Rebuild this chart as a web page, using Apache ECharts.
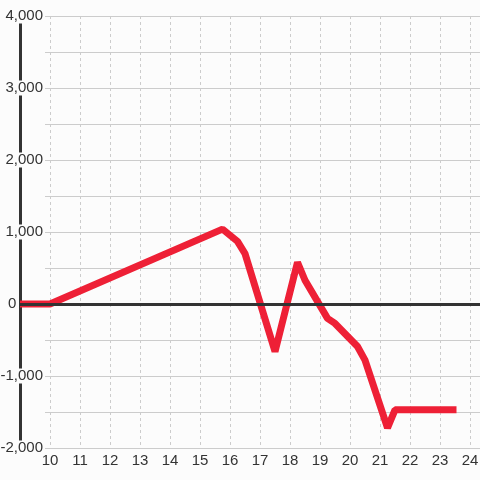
<!DOCTYPE html>
<html>
<head>
<meta charset="utf-8">
<script src="https://cdn.jsdelivr.net/npm/echarts@6/dist/echarts.min.js"></script>
<style>
  html, body { margin: 0; padding: 0; background: #fcfcfc; }
  #chart { width: 480px; height: 480px; }
</style>
</head>
<body>
<div id="chart"></div>
<script>
// 数据：时间（小时）与数值
const hours = [9, 10, 15.75, 16.25, 16.5, 17.5, 18.25, 18.5, 19.25, 19.5, 20.25, 20.5, 21.25, 21.5, 23.55]
const values = [0, 0, 1040, 870, 700, -660, 580, 330, -200, -270, -590, -780, -1720, -1470, -1470]
const xTicks = [10, 11, 12, 13, 14, 15, 16, 17, 18, 19, 20, 21, 22, 23, 24]
const yTicks = [-2000, -1000, 0, 1000, 2000, 3000, 4000]

const BG = '#fcfcfc'
const RED = '#ee2036'
const DARK = '#333333'
const GRID_GRAY = '#cccccc'
const FONT = 'Liberation Sans, Arial, sans-serif'
const FONT_SIZE = 15

const chart = echarts.init(document.getElementById('chart'))

const yMin = yTicks[0]
const yMax = yTicks[yTicks.length - 1]
const xMin = 9
const xMax = 24 + 1 / 3

// y 轴标签：非零标签带背景遮住竖线，零标签放在竖线左边
const yLabel = v => {
  if (!yTicks.includes(v)) return ''
  if (v === 0) return '{z|0}'
  return '{b|' + v.toLocaleString('en-US') + '}'
}

const option = {
  backgroundColor: BG,
  animation: false,
  grid: [
    { left: 20, right: 0, top: 16, bottom: 32, containLabel: false, outerBoundsMode: 'none' },
    { left: 45, right: 0, top: 16, bottom: 32, containLabel: false, outerBoundsMode: 'none' }
  ],
  xAxis: [
    {
      type: 'value',
      gridIndex: 0,
      min: xMin,
      max: xMax,
      interval: 1,
      axisLine: { show: false, onZero: false },
      axisTick: { show: false },
      axisLabel: {
        color: DARK,
        fontSize: FONT_SIZE,
        fontFamily: FONT,
        margin: 5,
        formatter: v => (xTicks.includes(v) ? String(v) : '')
      },
      splitLine: { show: true, lineStyle: { color: GRID_GRAY, type: [3, 3], width: 1 } }
    },
    {
      type: 'value',
      gridIndex: 1,
      show: false
    }
  ],
  yAxis: [
    {
      type: 'value',
      gridIndex: 0,
      min: yMin,
      max: yMax,
      interval: 500,
      axisLine: { show: true, onZero: false, lineStyle: { color: DARK, width: 3 } },
      axisTick: { show: false },
      axisLabel: {
        inside: true,
        align: 'right',
        margin: 23,
        color: DARK,
        fontSize: FONT_SIZE,
        fontFamily: FONT,
        formatter: yLabel,
        rich: {
          b: { color: DARK, fontSize: FONT_SIZE, fontFamily: FONT, backgroundColor: BG },
          z: { color: DARK, fontSize: FONT_SIZE, fontFamily: FONT, width: 35, align: 'left' }
        }
      },
      splitLine: { show: false }
    },
    {
      type: 'value',
      gridIndex: 1,
      min: yMin,
      max: yMax,
      interval: 500,
      axisLine: { show: false },
      axisTick: { show: false },
      axisLabel: { show: false },
      splitLine: { show: true, lineStyle: { color: GRID_GRAY, width: 1 } }
    }
  ],
  series: [
    {
      // 零线
      type: 'line',
      xAxisIndex: 0,
      yAxisIndex: 0,
      data: [],
      z: 1,
      markLine: {
        silent: true,
        symbol: 'none',
        label: { show: false },
        lineStyle: { color: DARK, width: 3, type: 'solid' },
        data: [{ yAxis: 0 }]
      }
    },
    {
      type: 'line',
      xAxisIndex: 0,
      yAxisIndex: 0,
      data: hours.map((h, i) => [h, values[i]]),
      symbol: 'none',
      z: 3,
      lineStyle: { color: RED, width: 7 }
    }
  ]
}

chart.setOption(option)
</script>
</body>
</html>
